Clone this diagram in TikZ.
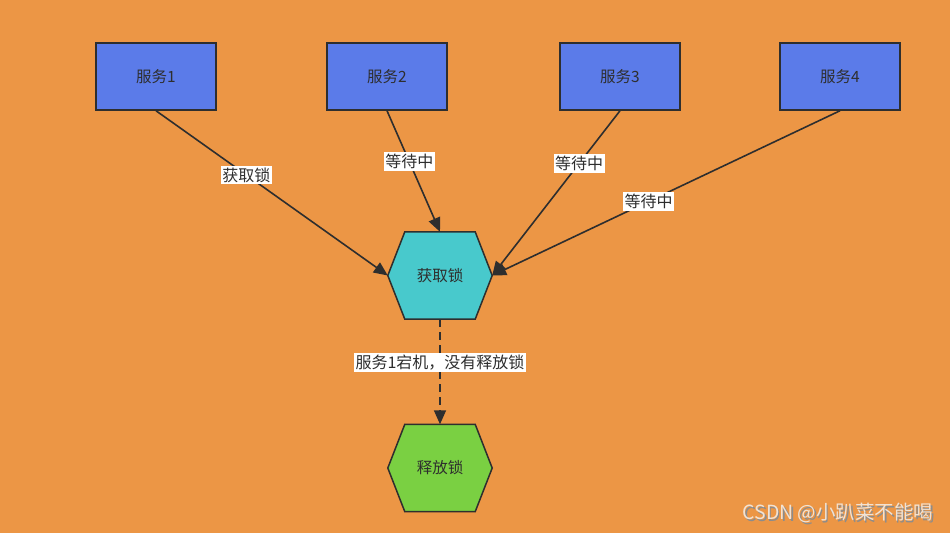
\documentclass[tikz,border=0pt]{standalone}
\usepackage{fontspec}
\setmainfont{Noto Sans CJK SC}
\usetikzlibrary{arrows.meta,calc,backgrounds}
\definecolor{bg}{HTML}{EC9645}
\definecolor{boxblue}{HTML}{5B7BE9}
\definecolor{hexcyan}{HTML}{48C9CC}
\definecolor{hexgreen}{HTML}{7AD042}
\definecolor{ink}{HTML}{2E2E2E}
\definecolor{wm}{HTML}{F2E2D2}
\begin{document}
\begin{tikzpicture}[x=1pt,y=-1pt,
  svc/.style={draw=ink,line width=1.5pt,fill=boxblue,minimum width=120pt,minimum height=67pt,inner sep=0pt,font=\fontsize{15.5}{17}\selectfont,text=ink},
  hexbox/.style={minimum width=104pt,minimum height=87pt,inner sep=0pt,font=\fontsize{15.5}{17}\selectfont,text=ink},
  conn/.style={draw=ink,line width=1.6pt,-{Triangle[length=14pt,width=12pt]}},
  lab/.style={fill=white,inner xsep=1.5pt,inner ysep=2pt,text=ink,font=\fontsize{16}{18}\selectfont}]
\useasboundingbox (0,0) rectangle (950,533);
\node[svc] (s1) at (156,76.5) {服务1};
\node[svc] (s2) at (387,76.5) {服务2};
\node[svc] (s3) at (620,76.5) {服务3};
\node[svc] (s4) at (840,76.5) {服务4};
\node[hexbox] (h1) at (440,275.5) {获取锁};
\node[hexbox] (h2) at (440,468) {释放锁};
\begin{scope}[on background layer]
\fill[bg] (0,0) rectangle (950,533);
\foreach \h/\c in {h1/hexcyan,h2/hexgreen}{
  \filldraw[draw=ink,fill=\c,line width=1.5pt,line join=miter]
    (\h.west) -- ($(\h.north west)+(17,0)$) -- ($(\h.north east)+(-17,0)$) -- (\h.east)
    -- ($(\h.south east)+(-17,0)$) -- ($(\h.south west)+(17,0)$) -- cycle;
}
\end{scope}
\draw[conn] (s1.south) -- node[lab,pos=0.39] {获取锁} (h1.west);
\draw[conn] (s2.south) -- node[lab,pos=0.42] {等待中} (h1.north);
\draw[conn] (s3.south) -- node[lab,pos=0.32] {等待中} (h1.east);
\draw[conn] (s4.south) -- node[lab,pos=0.55] {等待中} (h1.east);
\draw[conn,dash pattern=on 8pt off 5pt] (h1.south) -- node[lab,pos=0.41] {服务1宕机，没有释放锁} (h2.north);
\node[font=\fontsize{19.5}{21}\selectfont,text=black!45] (wmshadow) at (839.5,514.5) {CSDN @小趴菜不能喝};
\node[font=\fontsize{19.5}{21}\selectfont,text=wm] (wmark) at (838,513) {CSDN @小趴菜不能喝};
\end{tikzpicture}
\end{document}
